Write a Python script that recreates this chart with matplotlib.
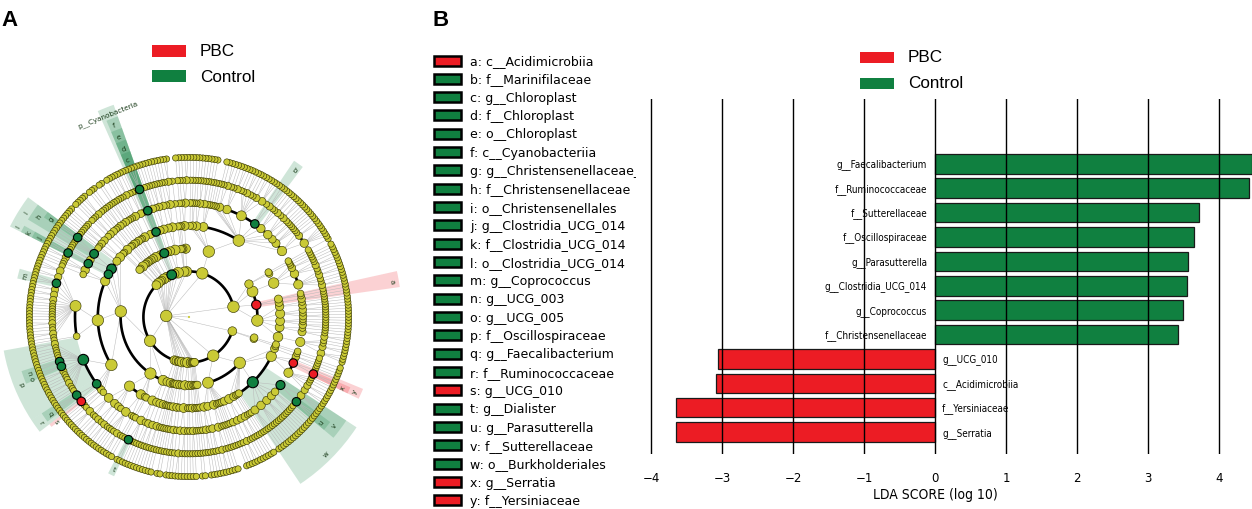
import numpy as np
import matplotlib
matplotlib.use('Agg')
import matplotlib.pyplot as plt
from matplotlib.patches import Rectangle
from matplotlib.collections import LineCollection

# ======================= DATA =======================
groups = ['PBC', 'Control']
group_colors = {'PBC': '#EC1C24', 'Control': '#108040'}

# ---- panel B: LDA scores ----
lda_taxa = ['g__Faecalibacterium', 'f__Ruminococcaceae', 'f__Sutterellaceae',
            'f__Oscillospiraceae', 'g__Parasutterella', 'g__Clostridia_UCG_014',
            'g__Coprococcus', 'f__Christensenellaceae', 'g__UCG_010',
            'c__Acidimicrobiia', 'f__Yersiniaceae', 'g__Serratia']
lda_scores = [4.46, 4.42, 3.72, 3.65, 3.57, 3.55, 3.49, 3.42,
              -3.06, -3.09, -3.65, -3.65]
lda_groups = ['Control'] * 8 + ['PBC'] * 4
lda_ticks = [-4, -3, -2, -1, 0, 1, 2, 3, 4]
lda_xlabel = 'LDA SCORE (log 10)'

# ---- biomarker key (letters used in the cladogram) ----
key_letters = list('abcdefghijklmnopqrstuvwxy')
key_names = ['c__Acidimicrobiia', 'f__Marinifilaceae', 'g__Chloroplast', 'f__Chloroplast',
             'o__Chloroplast', 'c__Cyanobacteriia', 'g__Christensenellaceae_R_7_group',
             'f__Christensenellaceae', 'o__Christensenellales', 'g__Clostridia_UCG_014',
             'f__Clostridia_UCG_014', 'o__Clostridia_UCG_014', 'g__Coprococcus',
             'g__UCG_003', 'g__UCG_005', 'f__Oscillospiraceae', 'g__Faecalibacterium',
             'f__Ruminococcaceae', 'g__UCG_010', 'g__Dialister', 'g__Parasutterella',
             'f__Sutterellaceae', 'o__Burkholderiales', 'g__Serratia', 'f__Yersiniaceae']
key_groups = ['PBC', 'Control', 'Control', 'Control', 'Control', 'Control', 'Control',
              'Control', 'Control', 'Control', 'Control', 'Control', 'Control',
              'Control', 'Control', 'Control', 'Control', 'Control', 'PBC', 'Control',
              'Control', 'Control', 'Control', 'PBC', 'PBC']
# position of each lettered clade in the taxonomy tree (phylum, class, order, family, genus idx)
key_paths = [('Actinobacteriota', 1), ('Bacteroidota', 0, 0, 5),
             ('Cyanobacteria', 0, 0, 0, 0), ('Cyanobacteria', 0, 0, 0),
             ('Cyanobacteria', 0, 0), ('Cyanobacteria', 0),
             ('Firmicutes', 0, 2, 0, 0), ('Firmicutes', 0, 2, 0), ('Firmicutes', 0, 2),
             ('Firmicutes', 0, 3, 0, 0), ('Firmicutes', 0, 3, 0), ('Firmicutes', 0, 3),
             ('Firmicutes', 0, 5, 0, 2), ('Firmicutes', 0, 6, 0, 6), ('Firmicutes', 0, 6, 0, 7),
             ('Firmicutes', 0, 6, 0), ('Firmicutes', 0, 6, 1, 0), ('Firmicutes', 0, 6, 1),
             ('Firmicutes', 0, 6, 2, 0), ('Firmicutes', 2, 0, 0, 0),
             ('Proteobacteria', 1, 5, 5, 0), ('Proteobacteria', 1, 5, 5), ('Proteobacteria', 1, 5),
             ('Proteobacteria', 1, 6, 1, 0), ('Proteobacteria', 1, 6, 1)]
named_clades = ['p__Cyanobacteria']
named_paths = [('Cyanobacteria',)]
named_groups = ['Control']

# ---- panel A: taxonomy tree (phylum -> class -> order -> family -> [species per genus]) ----
Actinobacteriota = [[[[3, 2, 1, 1]], [[2, 1], [1]], [[1, 1], [1], [1]],
                     [[1, 1], [1], [1, 1]], [[1, 1], [1]]],
                    [[[1, 1]], [[1], [1]]],
                    [[[2, 1, 1, 2, 1], [1, 2, 1], [1, 1], [1]]],
                    [[[0]], [[1]]]]
Bacteroidota = [[[[5, 2, 1], [1, 1, 1], [1, 1], [1, 2, 1], [2, 1, 1], [2, 1],
                  [3, 2, 1, 1, 2, 1, 1], [2, 1, 1], [2, 1], [1], [0], [0]],
                 [[1], [1], [1, 1]], [[1, 1], [1]], [[1], [1]], [[1]]]]
Campilobacterota = [[[[2, 1], [1]]]]
Chloroflexi = [[[[1]]], [[]], [[[0]]]]
Desulfobacterota = [[[[2, 1], [1]], [[1, 1]]], [[[1, 1], [1]]]]
Deinococcota = [[[[1, 1]]]]
Cyanobacteria = [[[[3]]], [[[1]]]]
Elusimicrobiota = [[[[1, 1]]]]
Fusobacteriota = [[[[2, 1], [1]]]]
Patescibacteria = [[[[1]], [[0]]], [[[1, 1]]], [[[0]]]]
Synergistota = [[[[1, 1]]]]
Deferribacterota = [[[[1]]], [[[0]]]]
Spirochaetota = [[[[2], [1, 1]]]]
Planctomycetota = [[[[1]]], [[]]]
Firmicutes = [[[[1, 1], [1, 1]], [[1], [1]], [[2, 1, 1, 1], [1, 1]], [[2]], [[2, 1, 1], [1]],
               [[3, 2, 3, 2, 2, 2, 1, 1, 1, 1, 1, 1, 1, 2, 1, 1, 2, 1], [1]],
               [[2, 1, 1, 1, 1, 1, 2, 2, 2, 1, 1, 1, 2, 1, 1, 1], [3, 1], [1], [1, 1], [1]]],
              [[[3, 1, 1], [2, 1], [2], [1]], [[1, 1, 1, 2], [1]], [[1]], [[0]]],
              [[[2, 1, 1], [1]], [[1, 1]]]]
Bdellovibrionota = [[[[1, 1]]]]
Myxococcota = [[[[1, 1]], [[1]]]]
Fibrobacterota = [[[[1]]]]
Gemmatimonadota = [[[[0]]], [[[1]]]]
Acidobacteriota = [[[[1], [0]]], [[[1, 1]]]]
Nitrospirota = [[[[1]]]]
Verrucomicrobiota = [[[[2], [1, 1]]], [[[1]], [[1]]]]
Lentisphaerae = [[[[1, 1]]]]
Armatimonadota = [[[[0]]]]
Dependentiae = [[[[1]]]]
WPS_2 = [[[[1]]]]
Cloacimonadota = [[[[0]]]]
Proteobacteria = [[[[1, 1], [1]], [[1, 1]], [[2, 1], [1]], [[1]], [[0]], [[0]], [[1]], [[1, 1]]],
                  [[[2], [1, 1]], [[1, 1]], [[1]], [[1]], [[0]],
                   [[1, 1, 1], [1, 1, 1, 1], [1, 1, 1], [1, 1, 1], [1, 1], [3, 3]],
                   [[2, 2, 1, 1, 1], [2, 1], [1]], [[1, 1]]]]
Sumerlaeota = [[[[1]]], [[[0]]]]
phylum_names = ['Actinobacteriota', 'Bacteroidota', 'Campilobacterota', 'Chloroflexi',
                'Desulfobacterota', 'Deinococcota', 'Cyanobacteria', 'Elusimicrobiota',
                'Fusobacteriota', 'Patescibacteria', 'Synergistota', 'Deferribacterota',
                'Spirochaetota', 'Planctomycetota', 'Firmicutes', 'Bdellovibrionota',
                'Myxococcota', 'Fibrobacterota', 'Gemmatimonadota', 'Acidobacteriota',
                'Nitrospirota', 'Verrucomicrobiota', 'Lentisphaerae', 'Armatimonadota',
                'Dependentiae', 'WPS_2', 'Cloacimonadota', 'Proteobacteria', 'Sumerlaeota']
phylum_trees = [Actinobacteriota, Bacteroidota, Campilobacterota, Chloroflexi,
                Desulfobacterota, Deinococcota, Cyanobacteria, Elusimicrobiota,
                Fusobacteriota, Patescibacteria, Synergistota, Deferribacterota,
                Spirochaetota, Planctomycetota, Firmicutes, Bdellovibrionota,
                Myxococcota, Fibrobacterota, Gemmatimonadota, Acidobacteriota,
                Nitrospirota, Verrucomicrobiota, Lentisphaerae, Armatimonadota,
                Dependentiae, WPS_2, Cloacimonadota, Proteobacteria, Sumerlaeota]

# ======================= STYLE / LAYOUT =======================
W, H = 1252, 510
fig = plt.figure(figsize=(W / 100, H / 100), dpi=100)
fig.patch.set_facecolor('white')
PX2PT = 0.72
NARROW = dict(family=['Liberation Sans Narrow', 'DejaVu Sans'], stretch='condensed')
SANS = ['Liberation Sans', 'DejaVu Sans']

def fx(px):
    return px / W

def fy(py):
    return 1 - py / H

# ---------------- Panel A: cladogram ----------------
CX, CY, RAX = 189, 318, 240
axA = fig.add_axes([fx(CX - RAX), fy(CY + RAX), 2 * RAX / W, 2 * RAX / H], projection='polar')
axA.set_ylim(0, RAX)
axA.set_axis_off()
R_STEP = 22.8
START_DEG = -17.0
YEL, YEL_EDGE = '#CACA36', '#3A3A05'

slot = [0]
all_nodes = []

def make(spec, level, path):
    node = {'level': level, 'path': path, 'children': []}
    if level == 6:
        for j in range(spec):
            node['children'].append(make(None, 7, path + (j,)))
    elif level < 6:
        for j, sub in enumerate(spec):
            node['children'].append(make(sub, level + 1, path + (j,)))
    if node['children']:
        node['s0'] = node['children'][0]['s0']
        node['s1'] = node['children'][-1]['s1']
    else:
        node['s0'] = node['s1'] = slot[0]
        slot[0] += 1
    all_nodes.append(node)
    return node

phyla = [make(t, 2, (n,)) for n, t in zip(phylum_names, phylum_trees)]
bacteria = {'level': 1, 'path': ('Bacteria',), 'children': phyla,
            's0': phyla[0]['s0'], 's1': phyla[-1]['s1']}
all_nodes.append(bacteria)
N = slot[0]
step = 2 * np.pi / N
th0 = np.deg2rad(START_DEG)

def set_angle(node):
    if node['children']:
        for c in node['children']:
            set_angle(c)
        node['th'] = 0.5 * (node['children'][0]['th'] + node['children'][-1]['th'])
    else:
        node['th'] = th0 + (node['s0'] + 0.5) * step
    node['r'] = node['level'] * R_STEP
    node['n'] = node['s1'] - node['s0'] + 1

set_angle(bacteria)
by_path = {n['path']: n for n in all_nodes}

# fan lines and black arcs
segs = [[(0.0, 0.0), (bacteria['th'], bacteria['r'])]]
for nd in all_nodes:
    kids = nd['children']
    for c in kids:
        segs.append([(nd['th'], nd['r']), (c['th'], c['r'])])
    if len(kids) > 1:
        tt = np.linspace(kids[0]['th'], kids[-1]['th'], 200)
        axA.plot(tt, np.full_like(tt, kids[0]['r']), color='black', lw=1.9,
                 solid_capstyle='butt', zorder=2)
axA.add_collection(LineCollection(segs, colors='#B8B8B8', linewidths=0.35, zorder=1))

# shading + labels for biomarkers
def label_r(level):
    return 169 + (6 - level) * 12.3

def shade(nd, grp, text, fs):
    col = group_colors[grp]
    r0 = nd['r']
    r1 = label_r(nd['level']) + 7
    span = nd['n'] * step
    th_c = th0 + (nd['s0'] + nd['s1'] + 1) * 0.5 * step
    axA.bar(th_c, r1 - r0, width=span, bottom=r0, color=col, alpha=0.2,
            edgecolor='none', zorder=0.5)
    rot = np.rad2deg(th_c) - 90
    while rot <= -90:
        rot += 180
    while rot > 90:
        rot -= 180
    axA.text(th_c, label_r(nd['level']), text, fontsize=fs, color='#1b3d1b',
             rotation=rot, rotation_mode='anchor', ha='center', va='center', zorder=6)

marker_col = {}
for letter, path, grp in zip(key_letters, key_paths, key_groups):
    nd = by_path[path]
    shade(nd, grp, letter, 5)
    marker_col[path] = group_colors[grp]
for name, path, grp in zip(named_clades, named_paths, named_groups):
    nd = by_path[path]
    shade(nd, grp, name, 5.2)
    marker_col[path] = group_colors[grp]

# dots
def diam(nd):
    if nd['level'] == 7:
        return 6.2
    return min(11.5, 5.9 + 0.4 * (7 - nd['level']) + 1.3 * np.log(nd['n']))

plain = [nd for nd in all_nodes if nd['path'] not in marker_col]
plain.sort(key=lambda d: d['level'], reverse=True)
axA.scatter([d['th'] for d in plain], [d['r'] for d in plain],
            s=[(diam(d) * PX2PT) ** 2 for d in plain], c=YEL,
            edgecolors=YEL_EDGE, linewidths=0.45, zorder=3)
marked = [nd for nd in all_nodes if nd['path'] in marker_col]
axA.scatter([d['th'] for d in marked], [d['r'] for d in marked],
            s=[(max(diam(d), 8.5) * PX2PT) ** 2 for d in marked],
            c=[marker_col[d['path']] for d in marked],
            edgecolors='black', linewidths=0.8, zorder=4)
axA.scatter([0], [0], s=(2.2 * PX2PT) ** 2, c=YEL, edgecolors='none', zorder=3)

# Panel A legend
for i, g in enumerate(groups):
    yc = 52 + i * 25
    fig.patches.append(Rectangle((fx(152), fy(yc + 6)), 34 / W, 12 / H,
                                 transform=fig.transFigure, facecolor=group_colors[g],
                                 edgecolor='none'))
    fig.text(fx(200), fy(yc), g, fontsize=12.3, family=SANS, va='center', ha='left')

fig.text(fx(10), fy(20), 'A', fontsize=16, fontweight='bold', family=SANS,
         ha='center', va='center')
fig.text(fx(441), fy(20), 'B', fontsize=16, fontweight='bold', family=SANS,
         ha='center', va='center')

# ---------------- Panel B: key list ----------------
KX0, KX1, KY0, KY1 = 425, 636, 45, 510
axK = fig.add_axes([fx(KX0), fy(KY1), (KX1 - KX0) / W, (KY1 - KY0) / H])
axK.set_xlim(KX0, KX1)
axK.set_ylim(KY1, KY0)
axK.set_axis_off()
for i, (lt, nm, g) in enumerate(zip(key_letters, key_names, key_groups)):
    yc = 61.5 + i * 18.33
    axK.add_patch(Rectangle((434, yc - 5), 27, 10, facecolor=group_colors[g],
                            edgecolor='black', lw=1.8))
    t = axK.text(470, yc, f'{lt}: {nm}', fontsize=9, family='DejaVu Sans',
                 va='center', ha='left')
    t.set_clip_on(True)

# ---------------- Panel B: LDA bars ----------------
BX0, BX1, BY0, BY1 = 637, 1252, 100, 455
axB = fig.add_axes([fx(BX0), fy(BY1), (BX1 - BX0) / W, (BY1 - BY0) / H])
ypos = np.arange(len(lda_taxa))
axB.barh(ypos, lda_scores, height=0.8, color=[group_colors[g] for g in lda_groups],
         edgecolor='#1a1a1a', linewidth=0.9, zorder=1)
axB.set_xlim(-4.197, 4.465)
axB.set_ylim(11.9, -2.66)
axB.set_xticks(lda_ticks)
axB.set_xticklabels([f'{v}'.replace('-', '\u2212') for v in lda_ticks], fontsize=8.5)
axB.set_yticks([])
axB.grid(axis='x', color='black', linewidth=1.0)
axB.tick_params(axis='x', length=0, pad=12)
for s in axB.spines.values():
    s.set_visible(False)
for y, name, v in zip(ypos, lda_taxa, lda_scores):
    if v > 0:
        axB.text(-0.11, y, name, ha='right', va='center', fontsize=7.1, zorder=3, **NARROW)
    else:
        axB.text(0.1, y, name, ha='left', va='center', fontsize=7.1, zorder=3, **NARROW)
fig.text(fx(935), fy(495), lda_xlabel, fontsize=10, ha='center', va='center', **NARROW)

# Panel B legend
for i, g in enumerate(groups):
    yc = 58 + i * 25.5
    fig.patches.append(Rectangle((fx(860), fy(yc + 6)), 34 / W, 11 / H,
                                 transform=fig.transFigure, facecolor=group_colors[g],
                                 edgecolor='none'))
    fig.text(fx(908), fy(yc), g, fontsize=12.3, family=SANS, va='center', ha='left')

fig.savefig('out.png', dpi=100)
